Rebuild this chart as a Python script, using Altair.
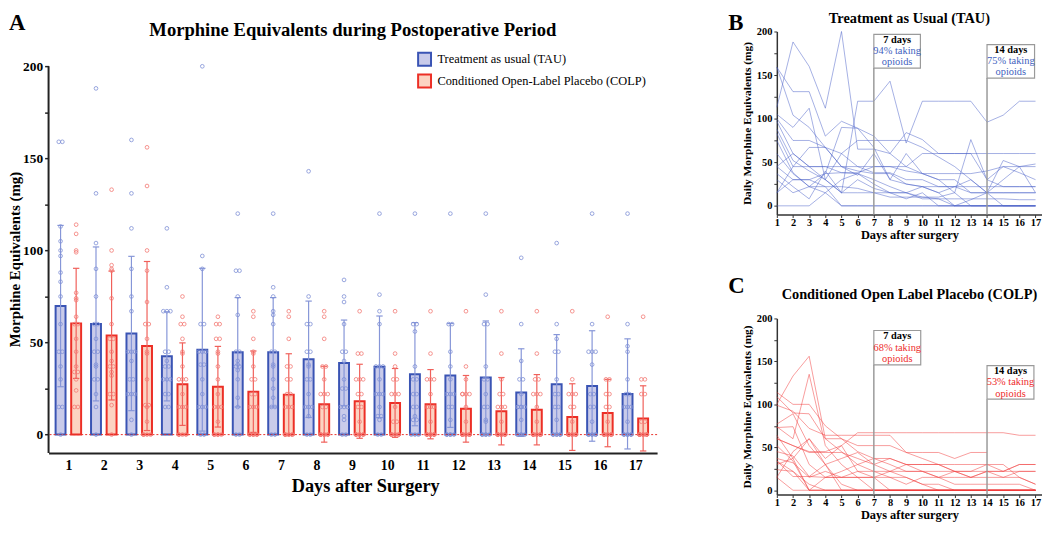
import altair as alt
import pandas as pd

FONT = "Liberation Serif"
DAYS = list(range(1, 18))
TAU = "Treatment as usual (TAU)"
COLP = "Conditioned Open-Label Placebo (COLP)"
GROUPS = [TAU, COLP]

# Panel A: daily mean and SD per group
TAU_MEAN = [69.8, 60.1, 54.9, 42.5, 46.1, 44.7, 44.7, 40.9, 38.9, 36.8, 32.8, 32.1, 31.0, 22.8, 27.3, 26.4, 22.1]
TAU_SD = [43.8, 41.8, 41.9, 24.2, 44.2, 29.7, 29.7, 31.6, 23.3, 27.6, 28.0, 28.2, 30.7, 23.8, 27.0, 30.0, 29.9]
COLP_MEAN = [60.4, 53.8, 48.1, 27.4, 26.0, 23.3, 21.7, 16.5, 18.1, 17.2, 16.5, 14.0, 12.7, 13.5, 9.5, 11.7, 8.8]
COLP_SD = [29.9, 35.0, 45.9, 22.4, 21.9, 22.1, 22.2, 20.6, 20.1, 18.7, 18.8, 18.1, 18.3, 19.1, 18.1, 18.3, 17.7]

# Individual patients, TAU (days 1..17)
T01 = [113, 188, 160, 112, 200, 65, 65, 60, 45, 37, 30, 30, 15, 15, 0, 0, 0]
T02 = [159, 131, 131, 80, 97, 89, 80, 60, 84, 76, 60, 60, 60, 60, 60, 60, 60]
T03 = [159, 104, 90, 67, 45, 45, 38, 38, 30, 30, 22, 22, 15, 15, 15, 15, 15]
T04 = [45, 60, 45, 30, 15, 120, 120, 143, 72, 120, 120, 120, 120, 96, 104, 120, 120]
T05 = [105, 90, 112, 30, 60, 75, 75, 75, 75, 67, 56, 45, 30, 15, 52, 45, 15]
T06 = [100, 75, 75, 67, 45, 40, 37, 37, 25, 22, 15, 0, 7, 15, 30, 45, 48]
T07 = [97, 60, 45, 45, 45, 35, 60, 30, 60, 37, 37, 37, 37, 40, 45, 38, 30]
T08 = [88, 52, 40, 30, 15, 30, 20, 15, 15, 10, 8, 0, 0, 0, 0, 0, 0]
T09 = [83, 45, 45, 45, 38, 38, 45, 45, 40, 37, 30, 15, 76, 30, 22, 22, 22]
T10 = [75, 38, 22, 37, 90, 89, 67, 30, 25, 22, 15, 22, 30, 15, 15, 15, 15]
T11 = [60, 37, 22, 15, 30, 37, 30, 22, 15, 8, 8, 8, 8, 8, 8, 7, 7]
T12 = [45, 30, 30, 37, 38, 37, 25, 15, 8, 15, 0, 0, 0, 0, 0, 0, 0]
T13 = [37, 22, 8, 40, 15, 15, 15, 10, 10, 10, 10, 15, 0, 0, 0, 0, 0]
T14 = [30, 15, 22, 22, 0, 0, 0, 0, 0, 0, 0, 0, 0, 0, 0, 0, 0]
T15 = [15, 30, 30, 22, 22, 20, 15, 15, 15, 22, 22, 22, 22, 22, 22, 22, 22]
T16 = [0, 0, 0, 15, 0, 0, 0, 0, 0, 0, 0, 0, 0, 0, 0, 0, 0]
T17 = [15, 45, 67, 67, 60, 45, 45, 45, 45, 60, 60, 60, 60, 30, 45, 45, 45]
TAU_PATIENTS = [T01, T02, T03, T04, T05, T06, T07, T08, T09, T10, T11, T12, T13, T14, T15, T16, T17]

# Individual patients, COLP (days 1..17)
C01 = [100, 133, 156, 60, 45, 30, 22, 15, 15, 7, 7, 0, 0, 0, 0, 0, 0]
C02 = [114, 100, 100, 75, 60, 45, 37, 30, 22, 22, 15, 15, 15, 22, 22, 22, 22]
C03 = [109, 90, 89, 60, 60, 52, 52, 52, 44, 44, 44, 37, 44, 44, None, None, None]
C04 = [74, 60, 135, 52, 30, 15, 0, 0, 0, 0, 0, 0, 0, 0, 0, 0, 0]
C05 = [99, 92, 72, 64, 64, 64, 64, 64, 44, 37, 30, 22, 22, 30, 22, 30, 30]
C06 = [77, 89, 52, 30, 37, 44, 30, 37, 30, 30, 30, 22, 15, 22, 15, 22, 22]
C07 = [73, 74, 30, 15, 15, 22, 22, 22, 22, 22, 22, 22, 22, 22, 22, 30, 30]
C08 = [64, 37, 60, 37, 52, 22, 15, 0, 0, 0, 0, 0, 0, 0, 0, 0, 0]
C09 = [60, 52, 44, 44, 44, 37, 30, 22, 15, 7, 0, 0, 0, 0, 0, 0, 0]
C10 = [52, 34, 0, 15, 22, 30, 37, 37, 30, 30, 30, 30, 30, 30, 30, 15, 7]
C11 = [45, 40, 16, 30, 7, 0, 0, 0, 0, 0, 0, 0, 0, 0, 0, 0, 0]
C12 = [37, 32, 15, 22, 15, 15, 15, 22, 30, 22, 15, 22, 15, 15, 15, 15, 7]
C13 = [34, 22, 7, 0, 0, 0, 0, 0, 0, 0, 0, 0, 0, 0, 0, 0, 0]
C14 = [34, 16, 16, 15, 15, 15, 15, 15, 7, 15, 15, 7, 7, 7, 7, 7, 0]
C15 = [15, 0, 0, 0, 0, 0, 0, 0, 0, 0, 0, 0, 0, 0, 0, 0, 0]
C16 = [15, 45, 60, 30, 0, 0, 0, 0, 0, 0, 0, 0, 0, 0, 0, 0, 0]
C17 = [60, 52, 45, 45, 52, 67, 67, 67, 67, 67, 67, 67, 67, 67, 67, 64, 64]
C18 = [30, 37, 0, 0, 0, 0, 0, 0, 0, 0, 0, 0, 0, 0, 0, 0, 0]
C19 = [24, 22, 0, 0, 0, 0, 0, 0, 0, 0, 0, 0, 0, 0, 0, 0, 0]
COLP_PATIENTS = [C01, C02, C03, C04, C05, C06, C07, C08, C09, C10, C11, C12, C13, C14, C15, C16, C17, C18, C19]

# Annotation boxes (day line, box right edge, box top, box bottom) and texts
B_NOTES = [
    {"day": 7, "x1": 9.88, "top": 196.6, "bot": 158.0, "l1": "7 days", "l2": "94% taking", "l3": "opioids"},
    {"day": 14, "x1": 16.94, "top": 185.0, "bot": 146.6, "l1": "14 days", "l2": "75% taking", "l3": "opioids"},
]
C_NOTES = [
    {"day": 7, "x1": 9.9, "top": 186.0, "bot": 146.0, "l1": "7 days", "l2": "68% taking", "l3": "opioids"},
    {"day": 14, "x1": 16.9, "top": 145.0, "bot": 106.0, "l1": "14 days", "l2": "53% taking", "l3": "opioids"},
]

# ---------------- data frames ----------------
summary = pd.DataFrame({
    "day": DAYS * 2,
    "group": [TAU] * 17 + [COLP] * 17,
    "mean": TAU_MEAN + COLP_MEAN,
    "sd": TAU_SD + COLP_SD,
})


def to_long(pats, group, prefix):
    rows = []
    for i, p in enumerate(pats):
        for d, v in zip(DAYS, p):
            if v is None:
                continue
            rows.append({"patient": f"{prefix}{i + 1:02d}", "group": group, "day": d, "value": v})
    return pd.DataFrame(rows)


tau_long = to_long(TAU_PATIENTS, TAU, "T")
colp_long = to_long(COLP_PATIENTS, COLP, "C")
pts = pd.concat([tau_long, colp_long], ignore_index=True)
g = pts.groupby(["group", "day", "value"])
pts["rk"] = g.cumcount()
pts["n"] = g["value"].transform("size")


def spread(r):
    if r["n"] == 1:
        return 0.0
    if r["n"] == 2:
        return -0.05 if r["rk"] == 0 else 0.05
    return ((r["rk"] % 3) - 1) * 0.1


pts["jit"] = pts.apply(spread, axis=1)

SIDE = "datum.day + (datum.group == 'Treatment as usual (TAU)' ? -0.22 : 0.22)"

# ---------------- Panel A ----------------
scaleAx = alt.Scale(domain=[0.4415, 17.614], nice=False, zero=False)
axisAx = alt.Axis(values=DAYS, format="d", title="Days after Surgery", ticks=False, labelPadding=6,
                  labelFontSize=14, labelFontWeight="bold", labelColor="black", labelFont=FONT,
                  titleFontSize=18.5, titleFontWeight="bold", titleColor="black", titleFont=FONT,
                  titlePadding=4, titleX=320, domainColor="#222", domainWidth=2, grid=False,
                  labelFlush=False, labelOverlap=False)
scaleAy = alt.Scale(domain=[-10, 218.9], nice=False, zero=False)
axisAy = alt.Axis(values=list(range(0, 201, 25)),
                  labelExpr="datum.value % 50 === 0 ? datum.label : ''",
                  domain=False, tickSize=4, tickWidth=1.5, tickColor="#222", labelPadding=2,
                  labelFontSize=13.5, labelFontWeight="bold", labelColor="black", labelFont=FONT,
                  title="Morphine Equivalents (mg)", titleFontSize=15, titleFontWeight="bold",
                  titleColor="black", titleFont=FONT, titleX=-26, titleY=230, grid=False)


def XA(f):
    return alt.X(f, type="quantitative", scale=scaleAx, axis=axisAx)


def YA(f):
    return alt.Y(f, type="quantitative", scale=scaleAy, axis=axisAy)


leg = alt.Legend(title=None, orient="none", legendX=372, legendY=20, symbolType="square",
                 symbolSize=170, symbolStrokeWidth=2, symbolOpacity=1, labelFont=FONT,
                 labelFontSize=12.5, labelColor="black", rowPadding=0, labelOffset=5, labelLimit=400)

base_sum = alt.Chart(summary).transform_calculate(
    xc=SIDE,
    x0="datum.xc - 0.14",
    x1="datum.xc + 0.14",
    lo="datum.mean - datum.sd",
    hi="datum.mean + datum.sd",
    c0="datum.xc - 0.09",
    c1="datum.xc + 0.09",
    zero="0",
)

bars = base_sum.mark_rect(strokeWidth=2).encode(
    x=XA("x0"), x2="x1", y=YA("mean"), y2="zero",
    fill=alt.Fill("group:N", scale=alt.Scale(domain=GROUPS, range=["#c9cbea", "#fcd3c2"]), legend=leg),
    stroke=alt.Stroke("group:N", scale=alt.Scale(domain=GROUPS, range=["#3a54b4", "#ec2f26"]), legend=leg),
)

zero_line = alt.Chart(pd.DataFrame({"z": [0]})).mark_rule(
    color="#e8322c", strokeDash=[2, 2], strokeWidth=1).encode(y=YA("z"))

err_layers = []
dot_layers = []
for grp, ecol, dcol in [(TAU, "#8696d8", "#7f90d6"), (COLP, "#f0605a", "#f47a74")]:
    b = base_sum.transform_filter(alt.datum.group == grp)
    err_layers.append(b.mark_rule(color=ecol, strokeWidth=1.2).encode(x=XA("xc"), y=YA("lo"), y2="hi"))
    err_layers.append(b.mark_rule(color=ecol, strokeWidth=1.2).encode(x=XA("c0"), x2="c1", y=YA("hi")))
    err_layers.append(b.mark_rule(color=ecol, strokeWidth=1.2).encode(x=XA("c0"), x2="c1", y=YA("lo")))
    dot_layers.append(
        alt.Chart(pts).transform_filter(alt.datum.group == grp)
        .transform_calculate(xp=SIDE + " + datum.jit")
        .mark_point(shape="circle", filled=False, size=14, strokeWidth=0.9, color=dcol, opacity=0.9)
        .encode(x=XA("xp"), y=YA("value"))
    )

y_domain = alt.Chart(pd.DataFrame({"lo": [-10], "hi": [200]})).mark_rule(
    color="#222", strokeWidth=2).encode(x=alt.value(0), y=YA("lo"), y2="hi")


def label(text, x, y, size, weight="bold", color="black", align="left", baseline="top"):
    return alt.Chart(pd.DataFrame({"t": [text]})).mark_text(
        font=FONT, fontSize=size, fontWeight=weight, color=color, align=align, baseline=baseline
    ).encode(x=alt.value(x), y=alt.value(y), text="t:N")


panelA = alt.layer(
    bars, zero_line, *err_layers, *dot_layers, y_domain,
    label("A", -40, -20, 23),
    label("Morphine Equivalents during Postoperative Period", 307.5, -10, 18.8, align="center"),
).properties(width=615, height=426)


# ---------------- Panels B and C ----------------
def spaghetti(long_df, notes, line_col, text_col, title, letter, height, ymin, title_y, letter_y):
    sx = alt.Scale(domain=[1, 17.4], nice=False, zero=False)
    ax = alt.Axis(values=DAYS, format="d", tickSize=3, tickColor="#333", labelFontSize=10.5,
                  labelFontWeight="bold", labelPadding=0, labelColor="black", labelFont=FONT,
                  title="Days after surgery", titleFontSize=12.5, titleFontWeight="bold",
                  titleColor="black", titleFont=FONT, titlePadding=1, domainColor="#333",
                  domainWidth=1.5, grid=False, labelFlush=False, labelOverlap=False)
    sy = alt.Scale(domain=[ymin, 200], nice=False, zero=False)
    ay = alt.Axis(values=list(range(0, 201, 25)),
                  labelExpr="datum.value % 50 === 0 ? datum.label : ''",
                  tickSize=3, tickColor="#333", labelFontSize=10.5, labelFontWeight="bold",
                  labelPadding=2, labelColor="black", labelFont=FONT,
                  title="Daily Morphine Equivalents (mg)", titleFontSize=11.5,
                  titleFontWeight="bold", titleColor="black", titleFont=FONT, titlePadding=4,
                  domainColor="#333", domainWidth=1.5, grid=False)

    def X(f):
        return alt.X(f, type="quantitative", scale=sx, axis=ax)

    def Y(f):
        return alt.Y(f, type="quantitative", scale=sy, axis=ay)

    lines = alt.Chart(long_df).mark_line(color=line_col, strokeWidth=1, opacity=0.5).encode(
        x=X("day"), y=Y("value"), detail="patient:N")

    nd = alt.Chart(pd.DataFrame(notes)).transform_calculate(
        base=str(ymin),
        xm="(datum.day + datum.x1) / 2",
        y1="datum.top - (datum.top - datum.bot) / 6",
        y2="datum.top - (datum.top - datum.bot) / 2",
        y3="datum.top - 5 * (datum.top - datum.bot) / 6",
    )
    vline = nd.mark_rule(color="#9a9a9a", strokeWidth=1.5).encode(x=X("day"), y=Y("base"), y2="bot")
    box = nd.mark_rect(fill="white", stroke="#9a9a9a", strokeWidth=1.2).encode(
        x=X("day"), x2="x1", y=Y("bot"), y2="top")
    t1 = nd.mark_text(font=FONT, fontSize=10.5, fontWeight="bold", color="black", baseline="middle").encode(
        x=X("xm"), y=Y("y1"), text="l1:N")
    t2 = nd.mark_text(font=FONT, fontSize=10.5, color=text_col, baseline="middle").encode(
        x=X("xm"), y=Y("y2"), text="l2:N")
    t3 = nd.mark_text(font=FONT, fontSize=10.5, color=text_col, baseline="middle").encode(
        x=X("xm"), y=Y("y3"), text="l3:N")

    return alt.layer(
        lines, vline, box, t1, t2, t3,
        label(letter, -49, letter_y, 23),
        label(title, 134, title_y, 14.5, align="center"),
    ).properties(width=268, height=height)


panelB = spaghetti(tau_long, B_NOTES, "#4a62c8", "#3f5fc0", "Treatment as Usual (TAU)", "B", 185, -10, -20, -20)
panelC = spaghetti(colp_long, C_NOTES, "#f03a3a", "#ee2b2b", "Conditioned Open Label Placebo (COLP)", "C", 178, -5, -31, -44)

right = alt.vconcat(panelB, panelC, spacing=105, bounds="flush")
chart = (
    alt.hconcat(panelA, right, spacing=121, bounds="flush")
    .properties(padding=0)
    .configure(font=FONT)
    .configure_view(stroke=None)
)

chart.save("out.html", embed_options={"renderer": "svg", "actions": False})
